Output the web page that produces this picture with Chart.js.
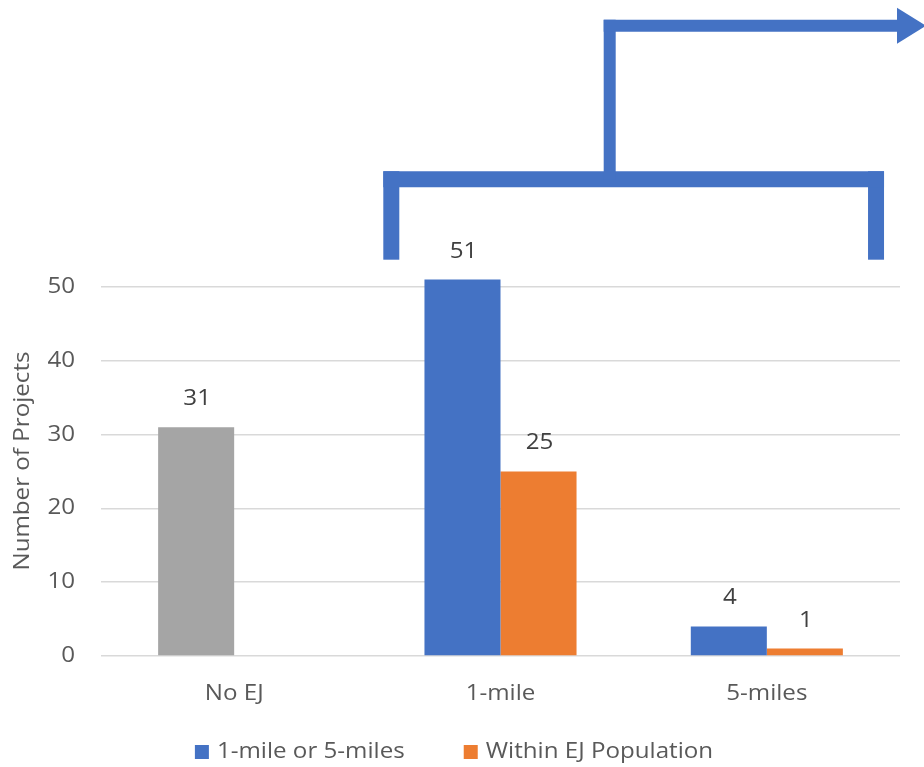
<!DOCTYPE html>
<html>
<head>
<meta charset="utf-8">
<script src="https://cdn.jsdelivr.net/npm/chart.js@4/dist/chart.umd.min.js"></script>
<style>
  html, body { margin: 0; padding: 0; background: #fff; }
  #wrap { width: 924px; height: 767px; }
</style>
</head>
<body>
<div id="wrap"><canvas id="myChart" width="924" height="767"></canvas></div>
<script>
var categories = ['No EJ', '1-mile', '5-miles'];
var withinRadius = [31, 51, 4];
var withinEJ = [null, 25, 1];
var radiusColors = ['#A5A5A5', '#4472C4', '#4472C4'];
var legendColors = ['#4472C4', '#ED7D31'];
var yTicks = [0, 10, 20, 30, 40, 50];
var yTitle = 'Number of Projects';

var FONT = '21px "Open Sans", Lato, sans-serif';
var STRETCH = 1.15;   // the labels use a wide face, so widen along the baseline

// draw one label, widened along its baseline
function label(ctx, s, x, y, align, angle) {
  ctx.save();
  ctx.translate(x, y);
  if (angle) ctx.rotate(angle);
  ctx.scale(STRETCH, 1);
  ctx.textAlign = align;
  ctx.textBaseline = 'middle';
  ctx.fillText(s, 0, 0);
  ctx.restore();
}

// axis labels, axis title and legend
var axisText = {
  id: 'axisText',
  afterDraw: function(chart) {
    var ctx = chart.ctx;
    var xs = chart.scales.x, ys = chart.scales.y;
    ctx.save();
    ctx.font = FONT;
    ctx.fillStyle = '#595959';

    yTicks.forEach(function(v) {
      label(ctx, String(v), 75, ys.getPixelForValue(v), 'right');
    });
    categories.forEach(function(c, i) {
      label(ctx, c, xs.getPixelForValue(i), 694, 'center');
    });
    label(ctx, yTitle, 23, 461, 'center', -Math.PI / 2);

    var box = 14, gap = 8, itemGap = 59;
    var widths = chart.data.datasets.map(function(ds) { return ctx.measureText(ds.label).width * STRETCH; });
    var total = widths.reduce(function(a, w) { return a + box + gap + w; }, 0) + itemGap * (widths.length - 1);
    var x = chart.width / 2 - 8 - total / 2;
    var y = 752;
    chart.data.datasets.forEach(function(ds, i) {
      ctx.fillStyle = legendColors[i];
      ctx.fillRect(x, y - box / 2, box, box);
      ctx.fillStyle = '#595959';
      label(ctx, ds.label, x + box + gap, y, 'left');
      x += box + gap + widths[i] + itemGap;
    });
    ctx.restore();
  }
};

// value labels above each bar
var barLabels = {
  id: 'barLabels',
  afterDatasetsDraw: function(chart) {
    var ctx = chart.ctx;
    ctx.save();
    ctx.font = FONT;
    ctx.fillStyle = '#404040';
    chart.data.datasets.forEach(function(ds, i) {
      chart.getDatasetMeta(i).data.forEach(function(bar, j) {
        if (ds.data[j] == null) return;
        label(ctx, String(ds.data[j]), bar.x + 1, bar.y - 28, 'center');
      });
    });
    ctx.restore();
  }
};

// bracket over the 1-mile / 5-miles groups with an arrow leading off to the right
var bracket = {
  id: 'bracket',
  afterDraw: function(chart) {
    var ctx = chart.ctx;
    var x = chart.scales.x, y = chart.scales.y;
    var step = x.getPixelForValue(2) - x.getPixelForValue(1);
    var left = x.getPixelForValue(1) - step * 0.41;
    var right = x.getPixelForValue(2) + step * 0.41;
    var stem = x.getPixelForValue(1) + step * 0.41;
    var bottom = y.getPixelForValue(53.7);
    var bar = y.getPixelForValue(64.6);
    var top = y.getPixelForValue(85.4);
    ctx.save();
    ctx.fillStyle = '#4472C4';
    // bracket legs and crossbar
    ctx.fillRect(left - 8, bar - 8, 16, bottom - bar + 8);
    ctx.fillRect(right - 8, bar - 8, 16, bottom - bar + 8);
    ctx.fillRect(left - 8, bar - 8, right - left + 16, 16);
    // stem and shaft
    ctx.fillRect(stem - 6, top - 6, 12, bar - top + 6);
    var headX = chart.width - 27;
    ctx.fillRect(stem - 6, top - 6, headX - stem + 6, 12);
    ctx.beginPath();
    ctx.moveTo(headX, top - 18);
    ctx.lineTo(chart.width + 2, top);
    ctx.lineTo(headX, top + 18);
    ctx.closePath();
    ctx.fill();
    ctx.restore();
  }
};

var ctx = document.getElementById('myChart').getContext('2d');
var myChart = new Chart(ctx, {
  type: 'bar',
  data: {
    labels: categories,
    datasets: [{
      label: '1-mile or 5-miles',
      data: withinRadius,
      backgroundColor: radiusColors,
      clip: false
    }, {
      label: 'Within EJ Population',
      data: withinEJ,
      backgroundColor: '#ED7D31',
      clip: false
    }]
  },
  options: {
    responsive: false,
    animation: false,
    categoryPercentage: 0.571,
    barPercentage: 1,
    layout: { padding: { top: 287, right: 24, left: 0, bottom: 0 } },
    plugins: {
      tooltip: { enabled: false },
      legend: { display: false }
    },
    scales: {
      x: {
        afterFit: function(scale) { scale.height = 111; },
        grid: { display: false, drawTicks: false },
        border: { display: false },
        ticks: { display: false }
      },
      y: {
        min: 0,
        max: 50,
        afterBuildTicks: function(scale) {
          scale.ticks = yTicks.map(function(v) { return { value: v }; });
        },
        afterFit: function(scale) { scale.width = 101; },
        grid: { color: '#D9D9D9', lineWidth: 1.5, drawTicks: false },
        border: { display: false },
        ticks: { display: false }
      }
    }
  },
  plugins: [barLabels, axisText, bracket]
});
</script>
</body>
</html>
